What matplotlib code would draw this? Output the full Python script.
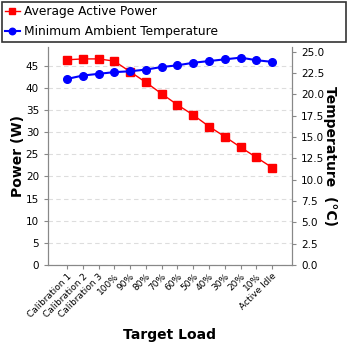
import matplotlib
matplotlib.use("Agg")
import matplotlib.pyplot as plt

# data
loads = ["Calibration 1", "Calibration 2", "Calibration 3", "100%", "90%", "80%",
         "70%", "60%", "50%", "40%", "30%", "20%", "10%", "Active Idle"]
power_w = [46.4, 46.6, 46.6, 46.1, 43.7, 41.3, 38.7, 36.2, 33.9, 31.3, 29.0, 26.6, 24.3, 22.0]
temp_c = [21.8, 22.2, 22.4, 22.6, 22.7, 22.9, 23.2, 23.4, 23.7, 23.9, 24.1, 24.3, 24.0, 23.8]

power_ticks = [0, 5, 10, 15, 20, 25, 30, 35, 40, 45]
temp_ticks = [0.0, 2.5, 5.0, 7.5, 10.0, 12.5, 15.0, 17.5, 20.0, 22.5, 25.0]

fig = plt.figure(figsize=(3.48, 3.48), dpi=100)
ax = fig.add_axes([0.138, 0.239, 0.701, 0.626])
ax2 = ax.twinx()

x = list(range(len(loads)))
l1, = ax.plot(x, power_w, color="red", marker="s", markersize=5.5, linewidth=1,
              label="Average Active Power", zorder=3)
l2, = ax2.plot(x, temp_c, color="blue", marker="o", markersize=5.5, linewidth=1.5,
               label="Minimum Ambient Temperature", zorder=3)

ax.set_xlim(-1.2, 14.25)
ax.set_ylim(0, 49.3)
ax2.set_ylim(0, 25.55)
ax.set_yticks(power_ticks)
ax2.set_yticks(temp_ticks)
ax2.set_yticklabels([f"{t:.1f}" for t in temp_ticks])
ax.set_xticks(x)
ax.set_xticklabels(loads, rotation=45, ha="right", rotation_mode="anchor")

ax.grid(axis="y", linestyle=(0, (4, 3)), color="#dddddd", linewidth=0.8)
ax.set_axisbelow(True)

for a in (ax, ax2):
    a.spines["top"].set_visible(False)
    for s in ("left", "right", "bottom"):
        a.spines[s].set_color("#888888")
    a.tick_params(colors="#888888", labelcolor="black", labelsize=7.5, length=3)
ax.tick_params(axis="x", labelsize=6.5, pad=2)

ax.set_ylabel("Power (W)", fontsize=10, fontweight="bold", va="center")
ax.yaxis.set_label_coords(-0.123, 0.5)
ax2.set_ylabel("Temperature  (°C)", fontsize=10, fontweight="bold", rotation=270, va="center")
ax2.yaxis.set_label_coords(1.156, 0.5)
ax.set_xlabel("Target Load", fontsize=10, fontweight="bold", labelpad=6)

leg = fig.legend(handles=[l1, l2], loc="upper left", bbox_to_anchor=(0.006, 0.88, 0.988, 0.114),
                 mode="expand", fontsize=8.8, fancybox=False, edgecolor="black",
                 handlelength=1.2, handletextpad=0.35, borderaxespad=0, labelspacing=0.6,
                 borderpad=0.25, markerscale=0.85)
leg.get_frame().set_linewidth(1.2)

fig.savefig("out.png", dpi=100)
